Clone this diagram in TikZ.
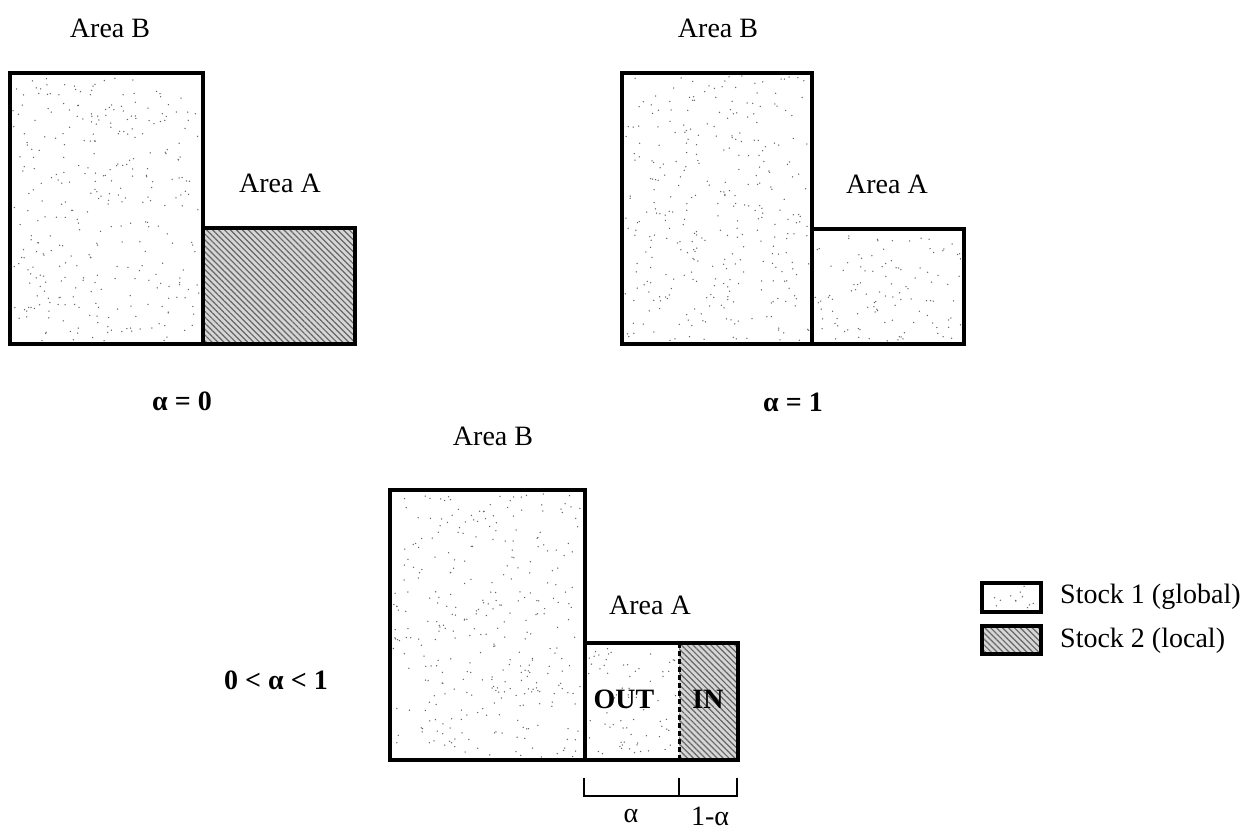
\documentclass[tikz,border=0pt]{standalone}
\usepackage{fontspec}
\setmainfont{Liberation Serif}
\usetikzlibrary{patterns.meta}

\tikzset{
  box/.style={line width=3.2pt, line join=miter},
  localfill/.style={fill=black!16},
  localhatch/.style={pattern={Lines[angle=-45,distance=4.2pt,line width=1.2pt]}, pattern color=black!60},
  lbl/.style={font=\fontsize{28}{32}\selectfont, inner sep=0pt, anchor=center},
  bracket/.style={line width=2.3pt},
  divider/.style={line width=3pt, dash pattern=on 5pt off 3pt},
  speck/.style={fill=black!60},
}

% scatter #5 fine dots inside the rectangle (#1,#2)-(#3,#4)
\newcommand\stipple[5]{%
  \foreach \k in {1,...,#5}{%
    \pgfmathsetmacro\sx{#1+3+rnd*(#3-#1-6)}%
    \pgfmathsetmacro\sy{#2+3+rnd*(#4-#2-6)}%
    \fill[speck] (\sx,\sy) circle (0.75);
  }%
}
% stock 2 texture: grey ground with diagonal hatching
\newcommand\localstock[4]{%
  \fill[localfill] (#1,#2) rectangle (#3,#4);
  \fill[localhatch] (#1,#2) rectangle (#3,#4);
}

\begin{document}
\begin{tikzpicture}[x=1pt,y=-1pt]
\useasboundingbox (0,0) rectangle (1250,831);
\pgfmathsetseed{7}

% ---- alpha = 0 : all of area A is stock 2
\stipple{10}{73}{203}{344}{330}
\localstock{203}{228}{355}{344}
\draw[box] (10,73) rectangle (203,344);
\draw[box] (203,228) rectangle (355,344);
\node[lbl] (b0) at (110,28) {Area B};
\node[lbl] (a0) at (280,183) {Area A};
\node[lbl] (k0) at (182,401) {\bfseries α = 0};

% ---- alpha = 1 : all of area A is stock 1
\stipple{622}{73}{812}{344}{330}
\stipple{812}{229}{964}{344}{110}
\draw[box] (622,73) rectangle (812,344);
\draw[box] (812,229) rectangle (964,344);
\node[lbl] (b1) at (718,28) {Area B};
\node[lbl] (a1) at (887,184) {Area A};
\node[lbl] (k1) at (793,402) {\bfseries α = 1};

% ---- 0 < alpha < 1 : area A split into OUT and IN
\stipple{390}{490}{585}{760}{330}
\stipple{585}{643}{679}{760}{70}
\localstock{679}{643}{738}{760}
\draw[box] (390,490) rectangle (585,760);
\draw[box] (585,643) rectangle (738,760);
\draw[divider] (679,643) -- (679,760);
\node[lbl] (b2) at (493,436) {Area B};
\node[lbl] (a2) at (650,605) {Area A};
\node[lbl] (out) at (624,699) {\bfseries OUT};
\node[lbl] (in) at (708,699) {\bfseries IN};
\node[lbl] (k2) at (276,680) {\bfseries 0 < α < 1};

% bracket under area A
\coordinate (t0) at (584,778);
\coordinate (t1) at (679,778);
\coordinate (t2) at (737,778);
\draw[bracket] (t0) -- (584,796) -- (737,796) -- (t2);
\draw[bracket] (t1) -- (679,796);
\node[lbl] (ga) at (631,816) {α};
\node[lbl] (gb) at (710,816) {1-α};

% ---- legend
\stipple{982}{583}{1041}{612}{12}
\draw[box] (982,583) rectangle (1041,612);
\localstock{982}{626}{1041}{654}
\draw[box] (982,626) rectangle (1041,654);
\node[lbl, anchor=west] (s1) at (1060,597) {Stock 1 (global)};
\node[lbl, anchor=west] (s2) at (1060,641) {Stock 2 (local)};
\end{tikzpicture}
\end{document}
